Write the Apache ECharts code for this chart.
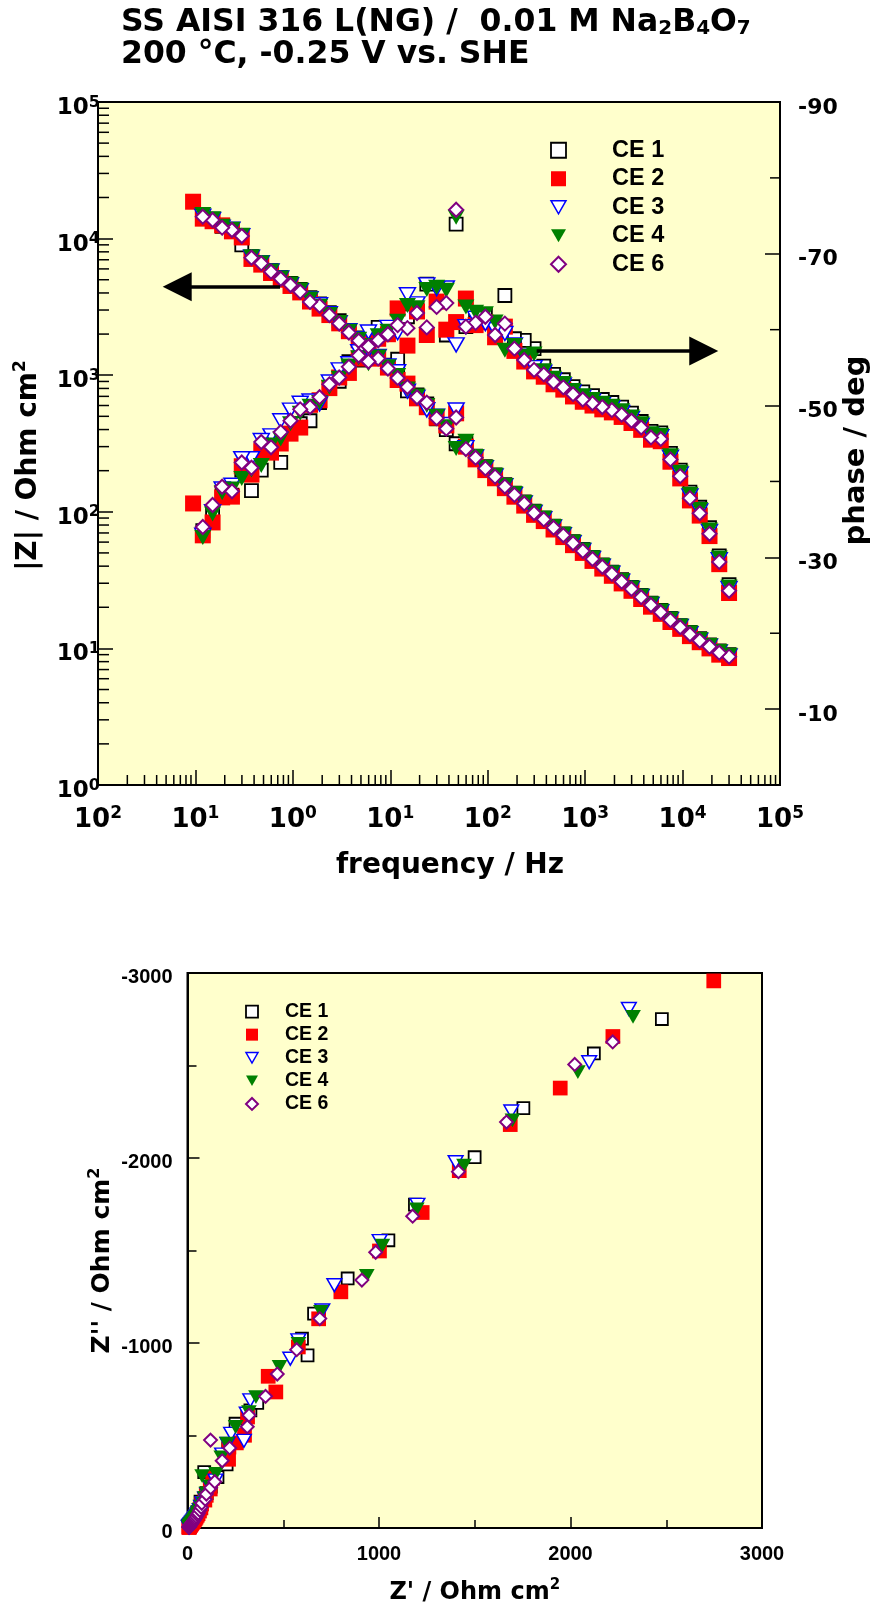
<!DOCTYPE html>
<html>
<head>
<meta charset="utf-8">
<script src="https://cdn.jsdelivr.net/npm/echarts@6/dist/echarts.min.js"></script>
<style>
  html, body { margin: 0; padding: 0; background: #ffffff; }
  #chart { width: 875px; height: 1605px; }
</style>
</head>
<body>
<div id="chart"></div>
<script>
// EIS of SS AISI 316 L(NG) in 0.01 M Na2B4O7 at 200 °C, -0.25 V vs. SHE:
// Bode plot (|Z| and phase vs. frequency) on top, Nyquist plot below.

// Measurement frequencies, Hz (10 points per decade, high to low)
const freq = [30000, 23800, 18900, 15000, 11900, 9460, 7510, 5970, 4740, 3760,
  2990, 2370, 1880, 1500, 1190, 946, 751, 597, 474, 376,
  299, 237, 188, 150, 119, 94.6, 75.1, 59.7, 47.4, 37.6,
  29.9, 23.7, 18.8, 15.0, 11.9, 9.46, 7.51, 5.97, 4.74, 3.76,
  2.99, 2.37, 1.88, 1.50, 1.19, 0.946, 0.751, 0.597, 0.474, 0.376,
  0.299, 0.237, 0.188, 0.150, 0.119, 0.0946];

// |Z| / Ohm cm2
const zmodCE1 = [9.0, 9.6, 10.6, 11.8, 13.1, 14.7, 16.6, 19.0, 21.4, 24.4,
  28.0, 31.8, 36.2, 40.8, 46.4, 53.0, 60.5, 69.0, 78.5, 90,
  101, 118, 137, 158, 186, 214, 255, 317, 315, 400,
  480, 617, 716, 768, 1124, 1185, 1334, 1587, 1876, 2113,
  2503, 2868, 3329, 3702, 4250, 4700, 5200, 5850, 6700, 7400,
  9000, 11300, 12300, 13300, 14800];
const zmodCE2 = [8.5, 9.0, 10.0, 11.1, 12.3, 13.9, 15.6, 17.9, 20.2, 23.0,
  26.4, 29.9, 34.0, 38.4, 43.7, 50.0, 57.0, 65.3, 74.2, 85.5,
  95, 111, 129, 149, 176, 202, 242, 300, 526, 429,
  488, 583, 677, 868, 922, 1137, 1322, 1507, 1802, 2100,
  2397, 2756, 3073, 3463, 4037, 4500, 5000, 5600, 6450, 7100,
  10200, 11300, 12500, 13400, 14000, 18620];
const zmodCE3 = [8.8, 9.4, 10.4, 11.5, 12.8, 14.5, 16.3, 18.6, 21.0, 24.0,
  27.5, 31.1, 35.5, 40.0, 45.6, 52.1, 59.4, 68.0, 77.3, 89,
  99, 116, 134, 155, 183, 210, 252, 295, 556, 436,
  500, 558, 691, 764, 1061, 1168, 1371, 1520, 1847, 2120,
  2423, 2816, 3277, 3631, 4150, 4600, 5150, 5800, 6650, 7300,
  10500, 11700, 12100, 13800, 14600];
const zmodCE4 = [8.9, 9.5, 10.5, 11.6, 13.0, 14.6, 16.4, 18.8, 21.2, 24.2,
  27.7, 31.4, 35.8, 40.4, 46.0, 52.6, 60.0, 68.6, 78.0, 90,
  100, 117, 136, 156, 185, 212, 254, 328, 291, 420,
  500, 601, 704, 793, 994, 1152, 1360, 1653, 1834, 2098,
  2433, 2781, 3198, 3612, 4200, 4650, 5150, 5800, 6650, 7350,
  10600, 11700, 12300, 14000, 15000];
const zmodCE6 = [8.7, 9.3, 10.3, 11.4, 12.7, 14.3, 16.1, 18.4, 20.8, 23.7,
  27.2, 30.8, 35.1, 39.6, 45.1, 51.6, 58.8, 67.3, 76.5, 88,
  98, 115, 133, 153, 181, 208, 249, 288, 490, 406,
  485, 630, 689, 820, 955, 1120, 1326, 1620, 1785, 2055,
  2390, 2755, 3220, 3440, 4086, 4575, 5085, 5724, 6590, 7245,
  10440, 11560, 12020, 13680, 14470];

// phase / deg
const phaseCE1 = [-26.4, -30.2, -33.9, -36.6, -38.6, -41.5, -43.7, -46.4, -46.6, -47.9,
  -49.0, -49.8, -50.4, -50.8, -51.3, -51.8, -52.5, -53.4, -54.1, -55.2,
  -57.5, -58.6, -58.8, -64.5, -60.5, -62.0, -61.5, -60.4, -73.9, -59.3,
  -63.7, -66.0, -62.7, -61.7, -56.1, -59.7, -60.3, -58.2, -56.0, -55.8,
  -53.2, -52.3, -50.4, -48.0, -47.6, -46.3, -42.5, -44.0, -41.5, -38.8,
  -41.5, -38.2, -38.5, -36.0, -33.5];
const phaseCE2 = [-25.3, -29.1, -32.8, -35.5, -37.5, -40.4, -42.6, -45.3, -45.5, -46.8,
  -47.7, -48.5, -49.1, -49.5, -50.0, -50.5, -51.2, -52.1, -52.8, -53.8,
  -54.5, -55.8, -57.2, -60.4, -59.0, -61.0, -60.6, -64.1, -61.0, -60.0,
  -63.7, -59.3, -62.4, -57.9, -62.8, -59.4, -58.8, -57.9, -56.2, -54.3,
  -53.7, -52.3, -50.7, -50.1, -47.1, -46.3, -45.0, -43.8, -44.0, -40.9,
  -42.0, -38.0, -37.9, -34.6, -32.9, -37.1];
const phaseCE3 = [-25.9, -29.7, -33.4, -36.1, -38.1, -41.0, -43.2, -45.9, -46.1, -47.4,
  -48.3, -49.1, -49.7, -50.1, -50.6, -51.1, -51.8, -52.7, -53.4, -54.4,
  -55.0, -56.5, -58.0, -59.5, -60.0, -60.8, -61.5, -60.4, -58.0, -65.5,
  -65.4, -65.9, -63.4, -64.6, -59.6, -60.3, -59.1, -59.7, -57.1, -55.5,
  -54.7, -53.1, -50.2, -50.6, -50.3, -49.4, -48.0, -46.0, -45.4, -43.0,
  -43.0, -39.5, -39.0, -36.0, -32.9];
const phaseCE4 = [-26.1, -29.9, -33.6, -36.3, -38.3, -41.2, -43.4, -46.1, -46.3, -47.6,
  -48.5, -49.3, -49.9, -50.3, -50.8, -51.3, -52.0, -52.9, -53.6, -54.6,
  -56.8, -56.5, -57.9, -57.3, -61.0, -62.1, -62.3, -63.0, -74.8, -65.2,
  -65.6, -65.3, -62.9, -63.2, -61.1, -59.8, -59.2, -55.5, -56.3, -55.2,
  -53.6, -52.4, -50.4, -49.9, -49.0, -47.6, -45.6, -44.8, -42.1, -41.5,
  -40.4, -39.0, -38.5, -35.7, -32.6];
const phaseCE6 = [-25.6, -29.4, -33.1, -35.8, -37.8, -40.7, -42.9, -45.6, -45.8, -47.1,
  -48.0, -48.8, -49.4, -49.8, -50.3, -50.8, -51.5, -52.4, -53.1, -54.1,
  -54.7, -56.0, -57.5, -60.8, -59.3, -61.7, -60.9, -60.4, -75.8, -63.5,
  -63.0, -60.3, -62.2, -60.2, -60.6, -59.4, -58.6, -55.8, -56.6, -55.1,
  -53.7, -52.8, -51.1, -49.8, -49.5, -48.0, -46.5, -44.5, -45.2, -41.8,
  -42.5, -38.7, -39.3, -36.9, -34.0];

const seriesNames = ['CE 1', 'CE 2', 'CE 3', 'CE 4', 'CE 6'];
const zmods = [zmodCE1, zmodCE2, zmodCE3, zmodCE4, zmodCE6];
const phases = [phaseCE1, phaseCE2, phaseCE3, phaseCE4, phaseCE6];

// Axis tick labels
const freqExpLabels = ['2', '1', '0', '1', '2', '3', '4', '5'];   // exponents printed under 1e-2 ... 1e5
const zmodExpLabels = ['0', '1', '2', '3', '4', '5'];

// Arrow annotations pointing to the axis of each curve
const arrowZmod = { from: [0.738, 4450], to: [0.065, 4450] };
const arrowPhase = { from: [318, -57.2], to: [16500, -57.2] };

const FONT = 'DejaVu Sans';
const SANS = 'Liberation Sans';
const BLACK = '#000000';
const TRI_DOWN = 'path://M0,0L16,0L8,14Z';

// Marker styles per electrode
const markers = [
  { symbol: 'rect', size: 13, style: { color: '#ffffff', borderColor: BLACK, borderWidth: 1.8, opacity: 1 } },
  { symbol: 'rect', size: 16, style: { color: '#ff0000', opacity: 1 } },
  { symbol: TRI_DOWN, size: [16, 14], style: { color: '#ffffff', borderColor: '#0000ff', borderWidth: 1.5, opacity: 1 } },
  { symbol: TRI_DOWN, size: [17, 15], style: { color: '#008000', opacity: 1 } },
  { symbol: 'diamond', size: 14, style: { color: '#ffffff', borderColor: '#800080', borderWidth: 2, opacity: 1 } }
];
const nyqScale = 0.92;

function scaled(size, k) {
  return Array.isArray(size) ? size.map(s => s * k) : size * k;
}

function supRich(base, sup) {
  return {
    b: { fontFamily: FONT, fontWeight: 'bold', fontSize: base, lineHeight: base + 4, color: BLACK },
    s: { fontFamily: FONT, fontWeight: 'bold', fontSize: sup, lineHeight: sup, verticalAlign: 'top', color: BLACK }
  };
}

// plain numeric label, nudged a little below its tick
function lowRich(family, size, drop) {
  return { v: { fontFamily: family, fontWeight: 'bold', fontSize: size, color: BLACK, padding: [drop * 2, 0, 0, 0] } };
}

// Minor ticks of the log axes (2..9 in every decade) and of the phase axis
const xMinor = [], yMinor = [];
for (let e = -2; e < 5; e++) for (let m = 2; m <= 9; m++) xMinor.push(m * Math.pow(10, e));
for (let e = 0; e < 5; e++) for (let m = 2; m <= 9; m++) yMinor.push(m * Math.pow(10, e));
const phaseMinor = [-80, -60, -40, -20];

function tickSeries(data, yAxisIndex, build) {
  return {
    type: 'custom', xAxisIndex: 0, yAxisIndex: yAxisIndex, silent: true, clip: false,
    animation: false, z: 6, data: data,
    renderItem: function (params, api) {
      const p = api.coord([api.value(0), api.value(1)]);
      const s = build(p);
      return { type: 'line', shape: { x1: s[0], y1: s[1], x2: s[2], y2: s[3] },
               style: { stroke: BLACK, lineWidth: 1.5 } };
    }
  };
}

const series = [];
seriesNames.forEach((name, i) => {
  const mk = markers[i];
  const base = {
    type: 'scatter', name: name, symbol: mk.symbol,
    itemStyle: mk.style, emphasis: { disabled: true }, animation: false, z: 3 + i * 0.1
  };
  const zs = Object.assign({}, base, {
    xAxisIndex: 0, yAxisIndex: 0, symbolSize: mk.size,
    data: zmods[i].map((z, k) => [freq[k], z])
  });
  const ps = Object.assign({}, base, {
    xAxisIndex: 0, yAxisIndex: 1, symbolSize: mk.size,
    data: phases[i].map((p, k) => [freq[k], p])
  });
  const nq = Object.assign({}, base, {
    xAxisIndex: 1, yAxisIndex: 2, symbolSize: scaled(mk.size, nyqScale), clip: true,
    data: zmods[i].map((z, k) => {
      const r = phases[i][k] * Math.PI / 180;
      return [z * Math.cos(r), z * Math.sin(r)];
    })
  });
  if (i === seriesNames.length - 1) {
    const arrowStyle = { color: BLACK, width: 3.5, type: 'solid' };
    zs.markLine = { silent: true, animation: false, symbol: ['none', 'triangle'], symbolSize: 29,
      label: { show: false }, lineStyle: arrowStyle, emphasis: { disabled: true },
      data: [[{ coord: arrowZmod.from }, { coord: arrowZmod.to }]] };
    ps.markLine = { silent: true, animation: false, symbol: ['none', 'triangle'], symbolSize: 29,
      label: { show: false }, lineStyle: arrowStyle, emphasis: { disabled: true },
      data: [[{ coord: arrowPhase.from }, { coord: arrowPhase.to }]] };
  }
  series.push(zs, ps, nq);
});

series.push(tickSeries(xMinor.map(v => [v, 1]), 0, p => [p[0], p[1], p[0], p[1] - 10]));
series.push(tickSeries(yMinor.map(v => [0.01, v]), 0, p => [p[0], p[1], p[0] + 11, p[1]]));
series.push(tickSeries(phaseMinor.map(v => [1e5, v]), 1, p => [p[0] - 10, p[1], p[0], p[1]]));

const legendItems = () => seriesNames.map((n, i) => ({ name: n, itemStyle: markers[i].style }));

const axisLineStyle = { show: true, onZero: false, lineStyle: { color: BLACK, width: 2 } };
const nameStyle = (size, padding) => ({
  fontFamily: FONT, fontWeight: 'bold', fontSize: size, color: BLACK, lineHeight: size + 6,
  padding: padding || 0,
  rich: { s: { fontFamily: FONT, fontWeight: 'bold', fontSize: Math.round(size * 0.62), lineHeight: Math.round(size * 0.62), verticalAlign: 'top', color: BLACK } }
});

const option = {
  animation: false,
  backgroundColor: '#ffffff',
  title: {
    left: 121, top: 7, padding: 0,
    text: '{m|SS AISI 316 L(NG) /  0.01 M Na}{d|2}{m|B}{d|4}{m|O}{d|7}\n{m|200 °C, -0.25 V vs. SHE}',
    textStyle: {
      rich: {
        m: { fontFamily: FONT, fontWeight: 'bold', fontSize: 31.5, lineHeight: 32, color: BLACK },
        d: { fontFamily: FONT, fontWeight: 'bold', fontSize: 20, lineHeight: 12, verticalAlign: 'bottom', color: BLACK }
      }
    }
  },
  legend: [
    {
      orient: 'vertical', left: 550, top: 136, padding: 0, itemGap: 0,
      itemWidth: 15, itemHeight: 15, selectedMode: false,
      data: legendItems(),
      textStyle: { fontFamily: SANS, fontWeight: 'bold', fontSize: 23.5, color: BLACK, lineHeight: 28.5, padding: [0, 0, 0, 41] }
    },
    {
      orient: 'vertical', left: 245, top: 1000, padding: 0, itemGap: 0,
      itemWidth: 12, itemHeight: 12, selectedMode: false,
      data: legendItems(),
      textStyle: { fontFamily: SANS, fontWeight: 'bold', fontSize: 19.5, color: BLACK, lineHeight: 23.1, padding: [0, 0, 0, 22] }
    }
  ],
  grid: [
    { left: 98, top: 102, width: 682, height: 683, show: true, backgroundColor: '#ffffcc',
      borderColor: BLACK, borderWidth: 2, containLabel: false, outerBoundsMode: 'none' },
    { left: 187.5, top: 973, width: 574.5, height: 555, show: true, backgroundColor: '#ffffcc',
      borderColor: BLACK, borderWidth: 2, containLabel: false, outerBoundsMode: 'none' }
  ],
  xAxis: [
    {
      type: 'log', gridIndex: 0, logBase: 10, min: 0.01, max: 100000, splitNumber: 7,
      axisLine: axisLineStyle,
      axisTick: { show: true, inside: true, length: 15, lineStyle: { color: BLACK, width: 1.5 } },
      splitLine: { show: false },
      axisLabel: {
        show: true, margin: 20, showMinLabel: true, showMaxLabel: true,
        formatter: v => '{b|10}{s|' + freqExpLabels[Math.round(Math.log10(v)) + 2] + '}',
        rich: supRich(26, 17)
      },
      name: 'frequency / Hz', nameLocation: 'middle', nameGap: 64, nameMoveOverlap: false,
      nameTextStyle: nameStyle(28, [0, 0, 0, 22])
    },
    {
      type: 'value', gridIndex: 1, min: 0, max: 3000, interval: 1000,
      axisLine: axisLineStyle,
      axisTick: { show: true, inside: true, length: 11, lineStyle: { color: BLACK, width: 1.5 } },
      minorTick: { show: true, splitNumber: 2, length: 8, lineStyle: { color: BLACK, width: 1.5 } },
      splitLine: { show: false }, minorSplitLine: { show: false },
      axisLabel: { show: true, margin: 16, fontFamily: SANS, fontWeight: 'bold', fontSize: 20, color: BLACK,
        showMinLabel: true, showMaxLabel: true, formatter: v => String(v) },
      name: "Z' / Ohm cm{s|2}", nameLocation: 'middle', nameGap: 50, nameMoveOverlap: false,
      nameTextStyle: nameStyle(24)
    }
  ],
  yAxis: [
    {
      type: 'log', gridIndex: 0, logBase: 10, min: 1, max: 100000, position: 'left',
      axisLine: axisLineStyle,
      axisTick: { show: true, inside: true, length: 15, lineStyle: { color: BLACK, width: 1.5 } },
      splitLine: { show: false },
      axisLabel: {
        show: true, margin: -2, padding: [12, 0, 0, 0], showMinLabel: true, showMaxLabel: true,
        formatter: v => '{b|10}{s|' + zmodExpLabels[Math.round(Math.log10(v))] + '}',
        rich: supRich(23, 16)
      },
      name: '|Z| / Ohm cm{s|2}', nameLocation: 'middle', nameGap: 52, nameRotate: 90, nameMoveOverlap: false,
      nameTextStyle: nameStyle(28, [0, 44, 0, 0])
    },
    {
      type: 'value', gridIndex: 0, min: -90, max: 0, interval: 20, inverse: true, position: 'right',
      axisLine: axisLineStyle,
      axisTick: { show: true, inside: true, length: 15, lineStyle: { color: BLACK, width: 1.5 } },
      splitLine: { show: false },
      axisLabel: { show: true, margin: 18, formatter: v => (v === 0 ? '' : '{v|' + v + '}'), rich: lowRich(FONT, 22, 6) },
      name: 'phase / deg', nameLocation: 'middle', nameGap: 59, nameRotate: 90, nameMoveOverlap: false,
      nameTextStyle: nameStyle(29, [0, 14, 0, 0])
    },
    {
      type: 'value', gridIndex: 1, min: -3000, max: 0, interval: 1000, inverse: true, position: 'left',
      axisLine: axisLineStyle,
      axisTick: { show: true, inside: true, length: 12, lineStyle: { color: BLACK, width: 1.5 } },
      minorTick: { show: true, splitNumber: 2, length: 9, lineStyle: { color: BLACK, width: 1.5 } },
      splitLine: { show: false }, minorSplitLine: { show: false },
      axisLabel: { show: true, margin: 15, showMinLabel: true, showMaxLabel: true,
        formatter: v => '{v|' + v + '}', rich: lowRich(SANS, 20, 4) },
      name: "Z'' / Ohm cm{s|2}", nameLocation: 'middle', nameGap: 70, nameRotate: 90, nameMoveOverlap: false,
      nameTextStyle: nameStyle(25, [0, 20, 0, 0])
    }
  ],
  series: series
};

const chart = echarts.init(document.getElementById('chart'), null, { renderer: 'canvas', width: 875, height: 1605 });
chart.setOption(option);
</script>
</body>
</html>
